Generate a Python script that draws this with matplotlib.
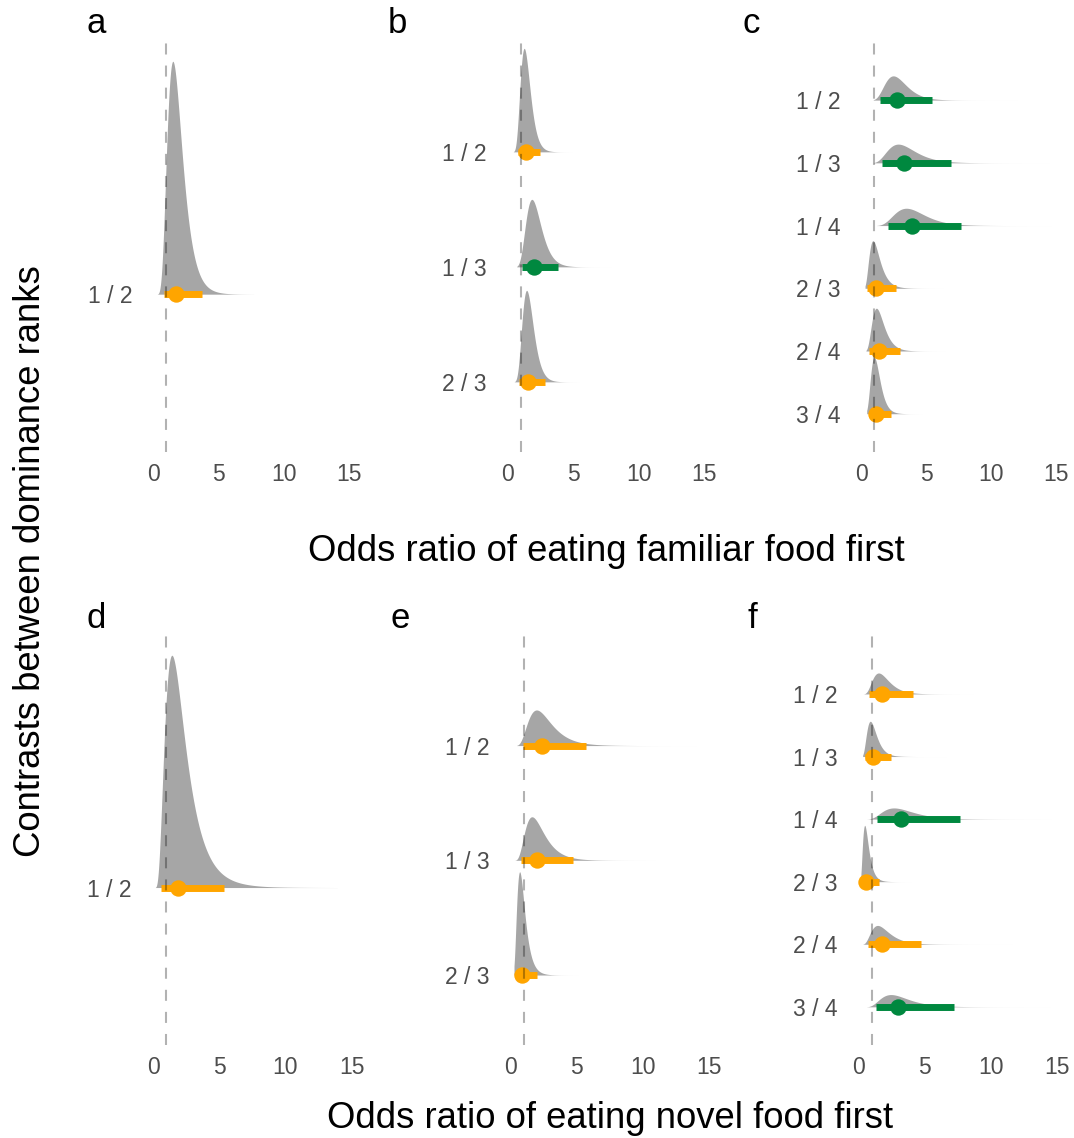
import numpy as np
import matplotlib.pyplot as plt

plt.rcParams['font.family'] = ['Liberation Sans', 'DejaVu Sans']

# Odds ratios: median, interval ends, and where each slab starts / ends
# panel a - familiar food, 2 ranks
a_labels = ['1 / 2']
a_median = [1.76]
a_lower = [0.82]
a_upper = [3.72]
a_min = [0.33]
a_max = [7.7]

# panel b - familiar food, 3 ranks
b_labels = ['1 / 2', '1 / 3', '2 / 3']
b_median = [1.38, 2.04, 1.58]
b_lower = [0.76, 1.12, 0.88]
b_upper = [2.50, 3.87, 2.85]
b_min = [0.43, 0.69, 0.50]
b_max = [5.0, 8.0, 5.5]

# panel c - familiar food, 4 ranks
c_labels = ['1 / 2', '1 / 3', '1 / 4', '2 / 3', '2 / 4', '3 / 4']
c_median = [2.78, 3.29, 3.90, 1.12, 1.38, 1.15]
c_lower = [1.45, 1.61, 2.07, 0.47, 0.64, 0.58]
c_upper = [5.43, 6.96, 7.73, 2.68, 2.98, 2.30]
c_min = [0.94, 0.94, 1.20, 0.31, 0.38, 0.44]
c_max = [12.4, 14.5, 14.7, 6.4, 7.4, 4.7]

# panel d - novel food, 2 ranks
d_labels = ['1 / 2']
d_median = [1.92]
d_lower = [0.63]
d_upper = [5.36]
d_min = [0.18]
d_max = [13.9]

# panel e - novel food, 3 ranks
e_labels = ['1 / 2', '1 / 3', '2 / 3']
e_median = [2.40, 1.97, 0.83]
e_lower = [0.96, 0.80, 0.34]
e_upper = [5.68, 4.70, 2.00]
e_min = [0.45, 0.30, 0.25]
e_max = [14.6, 11.0, 5.2]

# panel f - novel food, 4 ranks
f_labels = ['1 / 2', '1 / 3', '1 / 4', '2 / 3', '2 / 4', '3 / 4']
f_median = [1.79, 1.05, 3.23, 0.58, 1.79, 2.95]
f_lower = [0.80, 0.46, 1.39, 0.22, 0.73, 1.31]
f_upper = [4.09, 2.42, 7.71, 1.54, 4.72, 7.22]
f_min = [0.35, 0.30, 0.60, 0.17, 0.30, 0.60]
f_max = [9.4, 7.4, 14.6, 4.1, 12.2, 14.6]

GREEN = '#00883F'
ORANGE = '#FFA500'
SLAB = '#A6A6A6'
TICK = '#4D4D4D'

W, H = 1074, 1138
fig = plt.figure(figsize=(W / 100, H / 100), dpi=100)


def px_axes(zero_px, scale, top, bottom):
    # x axis runs from -0.75 to 15.75
    left = zero_px - 0.75 * scale
    width = 16.5 * scale
    return fig.add_axes([left / W, 1 - bottom / H, width / W, (bottom - top) / H])


def draw_panel(ax, labels, med, lo, hi, smin, smax):
    n = len(labels)
    ys = np.arange(n, 0, -1)
    curves = []
    for m, l, h, a, b in zip(med, lo, hi, smin, smax):
        sd = (np.log(h) - np.log(l)) / (2 * 1.96)
        x = np.linspace(a, b, 500)
        d = np.exp(-(np.log(x) - np.log(m)) ** 2 / (2 * sd ** 2)) / (x * sd * np.sqrt(2 * np.pi))
        curves.append((x, d))
    top = max(d.max() for _, d in curves)
    for y, (x, d), m, l, h in zip(ys, curves, med, lo, hi):
        ax.fill_between(x, y, y + 0.9 * d / top, color=SLAB, lw=0, zorder=1)
        col = GREEN if l > 1 else ORANGE
        ax.plot([l, h], [y, y], color=col, lw=5, solid_capstyle='butt', zorder=2)
        ax.plot(m, y, 'o', ms=11.8, color=col, mec='none', zorder=3)
    ax.axvline(1, color='k', alpha=0.3, lw=1.5, dashes=(5.3, 5.3), zorder=4)
    ax.set_xlim(-0.75, 15.75)
    ax.set_ylim(0.39, n + 0.99)
    ax.set_xticks([0, 5, 10, 15])
    ax.set_yticks(ys)
    ax.set_yticklabels(labels)
    ax.tick_params(length=0, labelsize=16.5, labelcolor=TICK, pad=8)
    for s in ax.spines.values():
        s.set_visible(False)
    ax.patch.set_visible(False)


panels = [
    ('a', a_labels, a_median, a_lower, a_upper, a_min, a_max, 153.0, 13.07, 38, 452, 87, 33),
    ('b', b_labels, b_median, b_lower, b_upper, b_min, b_max, 507.7, 13.09, 38, 452, 388, 33),
    ('c', c_labels, c_median, c_lower, c_upper, c_min, c_max, 861.0, 13.0, 38, 452, 743, 33),
    ('d', d_labels, d_median, d_lower, d_upper, d_min, d_max, 153.0, 13.25, 632, 1045, 87, 628),
    ('e', e_labels, e_median, e_lower, e_upper, e_min, e_max, 510.7, 13.22, 632, 1045, 390, 628),
    ('f', f_labels, f_median, f_lower, f_upper, f_min, f_max, 858.7, 13.2, 632, 1045, 747, 628),
]

for letter, labels, med, lo, hi, smin, smax, zero_px, scale, top, bottom, lx, ly in panels:
    ax = px_axes(zero_px, scale, top, bottom)
    draw_panel(ax, labels, med, lo, hi, smin, smax)
    fig.text(lx / W, 1 - ly / H, letter, fontsize=25, ha='left', va='baseline')

fig.text(606 / W, 1 - 561 / H, 'Odds ratio of eating familiar food first',
         fontsize=26.3, ha='center', va='baseline')
fig.text(610 / W, 1 - 1128 / H, 'Odds ratio of eating novel food first',
         fontsize=26.3, ha='center', va='baseline')
fig.text(31 / W, 1 - 561 / H, 'Contrasts between dominance ranks',
         fontsize=26.3, rotation=90, ha='center', va='center')

fig.savefig('out.png', dpi=100, facecolor='white')
